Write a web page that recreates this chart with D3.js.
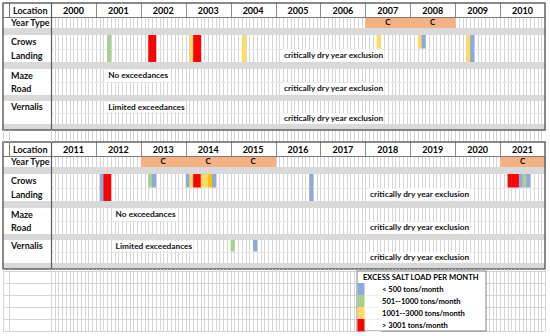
<!DOCTYPE html>
<html>
<head>
<meta charset="utf-8">
<script src="https://cdn.jsdelivr.net/npm/d3@7"></script>
<style>
  body { margin: 0; background: #fff; }
  svg { display: block; font-family: Lato, "DejaVu Sans", sans-serif; }
</style>
</head>
<body>
<div id="chart"></div>
<script>
// ---- Data ----
const yearsTop = d3.range(2000, 2011)
const yearsBottom = d3.range(2011, 2022)
const months = d3.range(12)
const locations = ["Crows Landing", "Maze Road", "Vernalis"]
const dryYears = [2007, 2008, 2013, 2014, 2015, 2021]

// level: 1 <500, 2 501-1000, 3 1001-3000, 4 >3001, 5 darker 1001-3000 cell
// rows: 2 = both sheet rows of the location, 1 = upper row only
const crowsEvents = [
  [2001, 3, 2, 2], [2002, 2, 4, 2], [2002, 3, 4, 2],
  [2003, 1, 3, 2], [2003, 2, 4, 2], [2003, 3, 4, 2],
  [2004, 3, 3, 2], [2007, 3, 3, 1],
  [2008, 2, 3, 1], [2008, 3, 1, 1],
  [2009, 3, 3, 2], [2009, 4, 1, 2],
  [2012, 1, 1, 2], [2012, 2, 4, 2], [2012, 3, 4, 2],
  [2013, 2, 2, 1], [2013, 3, 1, 1],
  [2014, 0, 1, 1], [2014, 1, 3, 1], [2014, 2, 4, 1], [2014, 3, 4, 1],
  [2014, 4, 3, 1], [2014, 5, 3, 1], [2014, 6, 5, 1], [2014, 7, 1, 1],
  [2016, 9, 1, 2],
  [2021, 2, 4, 1], [2021, 3, 4, 1], [2021, 4, 4, 1],
  [2021, 5, 1, 1], [2021, 6, 2, 1], [2021, 7, 1, 1]
]
const mazeEvents = []
const vernalisEvents = [[2015, 0, 2, 1], [2015, 6, 1, 1]]

// [location, line, year, month, text]
const notes = [
  ["Maze Road", 0, 2001, 3, "No exceedances"],
  ["Vernalis", 0, 2001, 3, "Limited exceedances"],
  ["Crows Landing", 1, 2005, 2, "critically dry year exclusion"],
  ["Maze Road", 1, 2005, 2, "critically dry year exclusion"],
  ["Vernalis", 1, 2005, 2, "critically dry year exclusion"],
  ["Maze Road", 0, 2012, 5, "No exceedances"],
  ["Vernalis", 0, 2012, 5, "Limited exceedances"],
  ["Crows Landing", 1, 2018, 1, "critically dry year exclusion"],
  ["Maze Road", 1, 2018, 1, "critically dry year exclusion"],
  ["Vernalis", 1, 2018, 1, "critically dry year exclusion"]
]

const legendTitle = "EXCESS SALT LOAD PER MONTH"
const legendLabels = ["< 500 tons/month", "501--1000 tons/month", "1001--3000 tons/month", "> 3001 tons/month"]
const locationLines = { "Crows Landing": ["Crows", "Landing"], "Maze Road": ["Maze", "Road"], "Vernalis": ["Vernalis"] }

// ---- Layout ----
const W = 550, H = 336
const xLeft = 3, xColA = 9, xLoc = 51, xRight = 545
const levelColor = d3.scaleOrdinal([1, 2, 3, 4, 5], ["#8eaadb", "#a9d08e", "#ffd966", "#ff0000", "#ffc000"])
const gridColor = "#d4d4d4", gapColor = "#d9d9d9", frameColor = "#595959"

const rowSpec = [
  { id: "header", h: 14 }, { id: "type", h: 11 }, { id: "gap", h: 7 },
  { id: "Crows Landing", h: 27 }, { id: "gap", h: 7 },
  { id: "Maze Road", h: 26 }, { id: "gap", h: 6 },
  { id: "Vernalis", h: 23 }, { id: "gap", h: 6 }
]
const panelH = d3.sum(rowSpec, d => d.h)

const svg = d3.select("#chart").append("svg").attr("width", W).attr("height", H)

function monthScale(years) {
  return d3.scaleBand()
    .domain(years.flatMap(y => months.map(m => y + "-" + m)))
    .range([xLoc, xRight])
}

function monthGrid(g, x, y0, y1) {
  g.append("g").selectAll("line")
    .data(x.domain().slice(1))
    .join("line")
    .attr("x1", d => Math.round(x(d)) + 0.5).attr("x2", d => Math.round(x(d)) + 0.5)
    .attr("y1", y0).attr("y2", y1)
    .attr("stroke", gridColor).attr("stroke-width", 1)
}

function drawPanel(top, years) {
  const g = svg.append("g")
  const x = monthScale(years)
  const xYear = d3.scaleBand().domain(years).range([xLeft === 0 ? 0 : xLoc, xRight])
  const ends = d3.cumsum(rowSpec, d => d.h)
  const rows = rowSpec.map((r, i) => ({ ...r, y0: top + ends[i] - r.h, y1: top + ends[i] }))
  const rowOf = id => rows.find(r => r.id === id)

  // gray separator rows
  g.selectAll("rect.gap")
    .data(rows.filter(r => r.id === "gap"))
    .join("rect").attr("class", "gap")
    .attr("x", xLeft).attr("width", xRight - xLeft)
    .attr("y", d => d.y0).attr("height", d => d.h)
    .attr("fill", gapColor)

  // white rows with month grid
  rows.filter(r => r.id !== "gap" && r.id !== "header").forEach(r => {
    monthGrid(g, x, r.y0, r.y1)
    if (r.id !== "type") {
      g.append("line")
        .attr("x1", xLoc).attr("x2", xRight)
        .attr("y1", Math.round(r.y0 + r.h / 2) + 0.5).attr("y2", Math.round(r.y0 + r.h / 2) + 0.5)
        .attr("stroke", "#e6e6e6")
    }
  })

  // year type
  const tr = rowOf("type")
  const dry = dryYears.filter(y => years.includes(y))
  g.selectAll("rect.dry").data(dry).join("rect").attr("class", "dry")
    .attr("x", d => xYear(d)).attr("width", xYear.bandwidth() + 0.5)
    .attr("y", tr.y0 + 0.5).attr("height", tr.h - 0.5)
    .attr("fill", "#f4b183")
  g.selectAll("text.dry").data(dry).join("text").attr("class", "dry")
    .attr("x", d => xYear(d) + xYear.bandwidth() / 2).attr("y", tr.y0 + tr.h / 2)
    .attr("dy", "0.35em").attr("text-anchor", "middle")
    .attr("font-size", 8).attr("font-weight", "bold").text("C")

  // exceedance cells
  const events = { "Crows Landing": crowsEvents, "Maze Road": mazeEvents, "Vernalis": vernalisEvents }
  locations.forEach(loc => {
    const r = rowOf(loc)
    const data = events[loc].filter(d => years.includes(d[0]))
    g.append("g").selectAll("rect")
      .data(data).join("rect")
      .attr("x", d => x(d[0] + "-" + d[1]))
      .attr("width", x.bandwidth() + 0.3)
      .attr("y", r.y0)
      .attr("height", d => d[3] === 2 ? r.h : r.h / 2)
      .attr("fill", d => levelColor(d[2]))
  })

  // notes with white backing
  notes.filter(n => years.includes(n[2])).forEach(n => {
    const r = rowOf(n[0])
    const t = g.append("text")
      .attr("x", x(n[2] + "-" + n[3]) + 1)
      .attr("y", r.y0 + r.h / 4 + n[1] * r.h / 2)
      .attr("dy", "0.35em")
      .attr("font-size", 8.3).attr("font-weight", "bold").attr("fill", "#111")
      .text(n[4])
    const b = t.node().getBBox()
    g.insert("rect", () => t.node())
      .attr("x", b.x - 1).attr("y", r.y0 + n[1] * r.h / 2 + 0.8)
      .attr("width", b.width + 2).attr("height", r.h / 2 - 1.2)
      .attr("fill", "#fff")
  })

  // header
  const hr = rowOf("header")
  g.append("rect").attr("x", xLeft).attr("y", hr.y0).attr("width", xRight - xLeft).attr("height", hr.h).attr("fill", "#fff")
  g.selectAll("line.ysep").data(years.slice(1)).join("line").attr("class", "ysep")
    .attr("x1", d => Math.round(xYear(d)) + 0.5).attr("x2", d => Math.round(xYear(d)) + 0.5)
    .attr("y1", hr.y0).attr("y2", hr.y1)
    .attr("stroke", "#8c8c8c")
  g.selectAll("text.year").data(years).join("text").attr("class", "year")
    .attr("x", d => xYear(d) + xYear.bandwidth() / 2).attr("y", hr.y0 + hr.h / 2 + 0.5)
    .attr("dy", "0.35em").attr("text-anchor", "middle")
    .attr("font-size", 9).attr("font-weight", "bold").text(d => d)
  g.append("line").attr("x1", xLeft).attr("x2", xRight).attr("y1", hr.y1 + 0.5).attr("y2", hr.y1 + 0.5)
    .attr("stroke", "#7a7a7a")
  g.append("line").attr("x1", xColA + 0.5).attr("x2", xColA + 0.5).attr("y1", hr.y0).attr("y2", hr.y1)
    .attr("stroke", "#7a7a7a")

  // location column labels
  const labels = [["header", ["Location"]], ["type", ["Year Type"]]]
    .concat(locations.map(l => [l, locationLines[l]]))
  labels.forEach(([id, lines]) => {
    const r = rowOf(id)
    const lh = id === "header" || id === "type" ? r.h : r.h / 2
    g.append("g").selectAll("text").data(lines).join("text")
      .attr("x", id === "header" ? 13 : 11)
      .attr("y", (d, i) => r.y0 + lh / 2 + i * lh + 0.5)
      .attr("dy", "0.35em")
      .attr("font-size", 9).attr("font-weight", "bold").attr("fill", "#111")
      .text(d => d)
  })

  // frame
  g.append("line").attr("x1", xLoc + 0.5).attr("x2", xLoc + 0.5).attr("y1", top).attr("y2", top + panelH)
    .attr("stroke", frameColor).attr("stroke-width", 1.2)
  g.append("rect").attr("x", xLeft).attr("y", top).attr("width", xRight - xLeft).attr("height", panelH)
    .attr("fill", "none").attr("stroke", frameColor).attr("stroke-width", 1.4)
  return x
}

const top1 = 3, top2 = top1 + panelH + 12
// spacer row between the two panels
const xs = monthScale(yearsBottom)
monthGrid(svg, xs, top1 + panelH, top2)
drawPanel(top1, yearsTop)
const xb = drawPanel(top2, yearsBottom)

// empty sheet rows below
const sheetTop = top2 + panelH + 2, sheetRow = 12, sheetRows = 5
const sheetY = d3.scaleLinear().domain([0, sheetRows]).range([sheetTop, sheetTop + sheetRows * sheetRow])
monthGrid(svg, xb, top2 + panelH, sheetY(sheetRows))
svg.append("g").selectAll("line").data(d3.range(sheetRows + 1)).join("line")
  .attr("x1", xLeft).attr("x2", xRight)
  .attr("y1", d => Math.round(sheetY(d)) + 0.5).attr("y2", d => Math.round(sheetY(d)) + 0.5)
  .attr("stroke", gridColor)
svg.append("g").selectAll("line").data([xLeft, xColA, xLoc]).join("line")
  .attr("x1", d => d + 0.5).attr("x2", d => d + 0.5)
  .attr("y1", top1 + panelH).attr("y2", top2)
  .attr("stroke", gridColor)
svg.append("g").selectAll("line").data([xLeft, xColA, xLoc, xRight]).join("line")
  .attr("x1", d => d + 0.5).attr("x2", d => d + 0.5)
  .attr("y1", top2 + panelH).attr("y2", sheetY(sheetRows))
  .attr("stroke", gridColor)

// legend
const lgX = 357, lgW = 129
const lg = svg.append("g")
lg.append("rect").attr("x", lgX).attr("y", sheetY(0)).attr("width", lgW).attr("height", sheetY(sheetRows) - sheetY(0))
  .attr("fill", "#fff").attr("stroke", "#808080")
lg.append("text").attr("x", lgX + 6).attr("y", (sheetY(0) + sheetY(1)) / 2).attr("dy", "0.35em")
  .attr("font-size", 7.6).attr("font-weight", "bold").text(legendTitle)
lg.selectAll("rect.sw").data(legendLabels).join("rect").attr("class", "sw")
  .attr("x", lgX + 0.5).attr("width", 7)
  .attr("y", (d, i) => sheetY(i + 1)).attr("height", sheetRow)
  .attr("fill", (d, i) => levelColor(i + 1))
lg.selectAll("line.sw").data(legendLabels).join("line").attr("class", "sw")
  .attr("x1", lgX + 8.5).attr("x2", lgX + 24)
  .attr("y1", (d, i) => Math.round(sheetY(i + 2)) + 0.5).attr("y2", (d, i) => Math.round(sheetY(i + 2)) + 0.5)
  .attr("stroke", "#eee")
lg.selectAll("text.lab").data(legendLabels).join("text").attr("class", "lab")
  .attr("x", lgX + 25).attr("y", (d, i) => sheetY(i + 1.5)).attr("dy", "0.35em")
  .attr("font-size", 7.6).attr("font-weight", "bold").text(d => d)
</script>
</body>
</html>
